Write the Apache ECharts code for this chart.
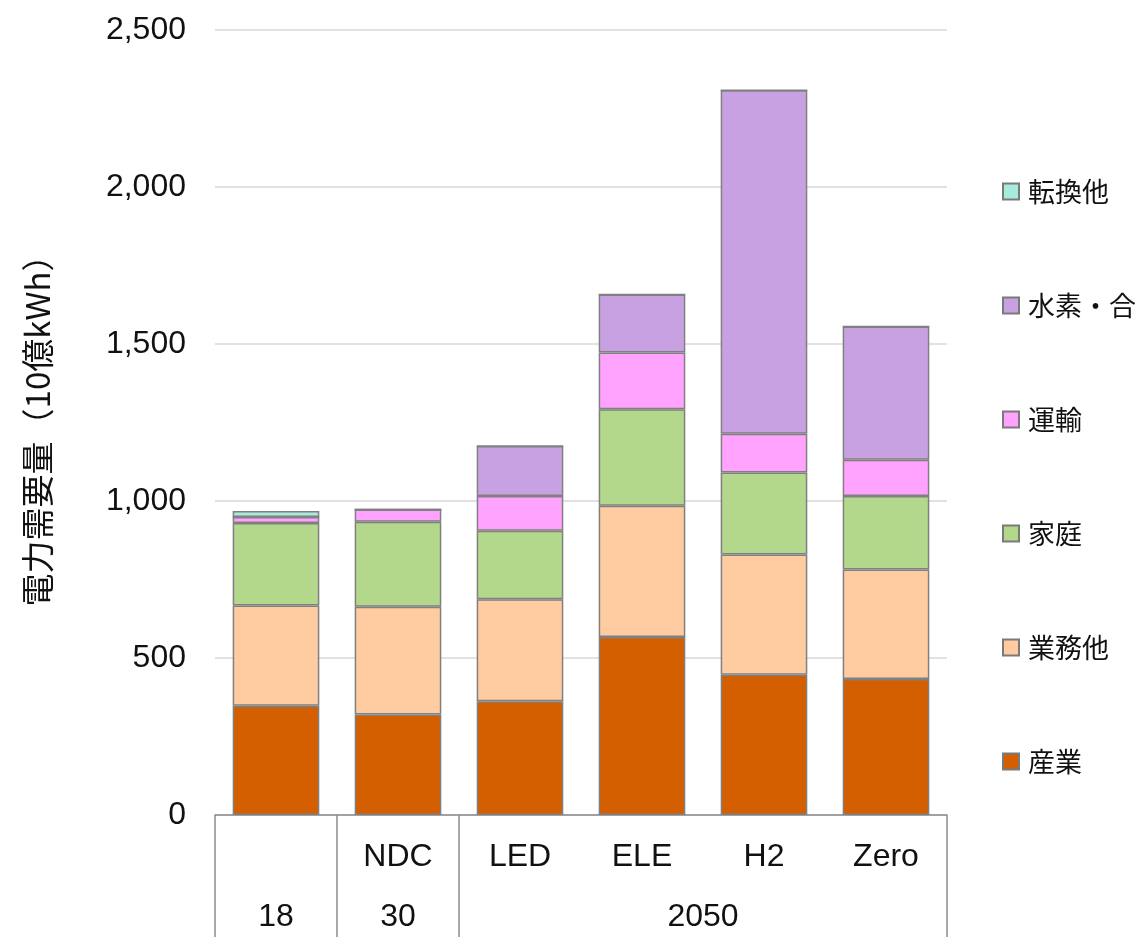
<!DOCTYPE html>
<html>
<head>
<meta charset="utf-8">
<script src="https://cdn.jsdelivr.net/npm/echarts@6/dist/echarts.min.js"></script>
<style>
  html, body { margin: 0; padding: 0; background: #fff; }
  #chart { width: 1135px; height: 946px; }
</style>
</head>
<body>
<div id="chart"></div>
<script>
// Scenario labels (first row) and period labels (second row)
var scenarios = ['', 'NDC', 'LED', 'ELE', 'H2', 'Zero'];
var periods = ['18', '30', '2050'];
var periodCenters = [0.5, 1.5, 4];
var periodBounds = [0, 1, 2, 6];
var yTicks = [0, 500, 1000, 1500, 2000, 2500];

// Electricity demand by sector (10億kWh)
var sangyo = [348, 320, 362, 567, 447, 433];   // 産業
var gyomu  = [319, 343, 325, 418, 383, 349];   // 業務他
var katei  = [263, 271, 218, 307, 261, 234];   // 家庭
var unyu   = [19, 39, 111, 181, 123, 115];     // 運輸
var suiso  = [0, 0, 159, 185, 1094, 425];      // 水素・合成燃料
var tenkan = [19, 0, 0, 0, 0, 0];              // 転換他

var seriesDefs = [
  { name: '産業', data: sangyo, color: '#D45F00' },
  { name: '業務他', data: gyomu, color: '#FFCBA1' },
  { name: '家庭', data: katei, color: '#B3D78B' },
  { name: '運輸', data: unyu, color: '#FFA3FF' },
  { name: '水素・合成燃料', data: suiso, color: '#C8A1E2' },
  { name: '転換他', data: tenkan, color: '#A8EBDD' }
];

var latin = '"Liberation Sans", Arial, sans-serif';
var cjk = '"Noto Sans CJK JP", "Liberation Sans", sans-serif';

var chart = echarts.init(document.getElementById('chart'), null, { renderer: 'canvas' });

chart.setOption({
  animation: false,
  backgroundColor: '#ffffff',
  grid: { left: 215, right: 188, top: 30, bottom: 131, containLabel: false },
  legend: {
    orient: 'vertical',
    left: 997,
    top: 173,
    itemGap: 87,
    itemWidth: 16,
    itemHeight: 16,
    icon: 'rect',
    data: seriesDefs.map(function (s) { return s.name; }).reverse(),
    itemStyle: { borderColor: '#7a7a7a', borderWidth: 2 },
    textStyle: { fontSize: 27, fontFamily: cjk, color: '#111', padding: [0, 0, 0, 4] }
  },
  xAxis: [
    {
      type: 'category',
      data: scenarios,
      axisLine: { show: true, lineStyle: { color: '#8c8c8c', width: 1.5 } },
      axisTick: { show: false },
      axisLabel: { fontSize: 32, fontFamily: latin, color: '#111', margin: 26, interval: 0 }
    },
    {
      type: 'value',
      min: 0,
      max: 6,
      position: 'bottom',
      axisLine: { show: false },
      splitLine: { show: false },
      axisTick: {
        show: true,
        customValues: periodBounds,
        length: 122,
        lineStyle: { color: '#8c8c8c', width: 1.5 }
      },
      axisLabel: {
        customValues: periodCenters,
        fontSize: 32,
        fontFamily: latin,
        color: '#111',
        margin: 86,
        formatter: function (v) {
          var i = periodCenters.indexOf(v);
          return i >= 0 ? periods[i] : '';
        }
      }
    }
  ],
  yAxis: {
    type: 'value',
    min: yTicks[0],
    max: yTicks[yTicks.length - 1],
    interval: 500,
    name: '電力需要量（10億kWh）',
    nameLocation: 'middle',
    nameRotate: 90,
    nameGap: 161,
    nameTextStyle: { fontSize: 33, fontFamily: cjk, color: '#111' },
    axisLine: { show: false },
    axisTick: { show: false },
    splitLine: { lineStyle: { color: '#d9d9d9', width: 1.5 } },
    axisLabel: {
      fontSize: 32,
      fontFamily: latin,
      color: '#111',
      margin: 29,
      formatter: function (v) { return v.toLocaleString('en-US'); }
    }
  },
  series: seriesDefs.map(function (s) {
    return {
      name: s.name,
      type: 'bar',
      stack: 'total',
      barWidth: '71%',
      data: s.data,
      itemStyle: { color: s.color, borderColor: '#808080', borderWidth: 1.5 }
    };
  })
});
</script>
</body>
</html>
